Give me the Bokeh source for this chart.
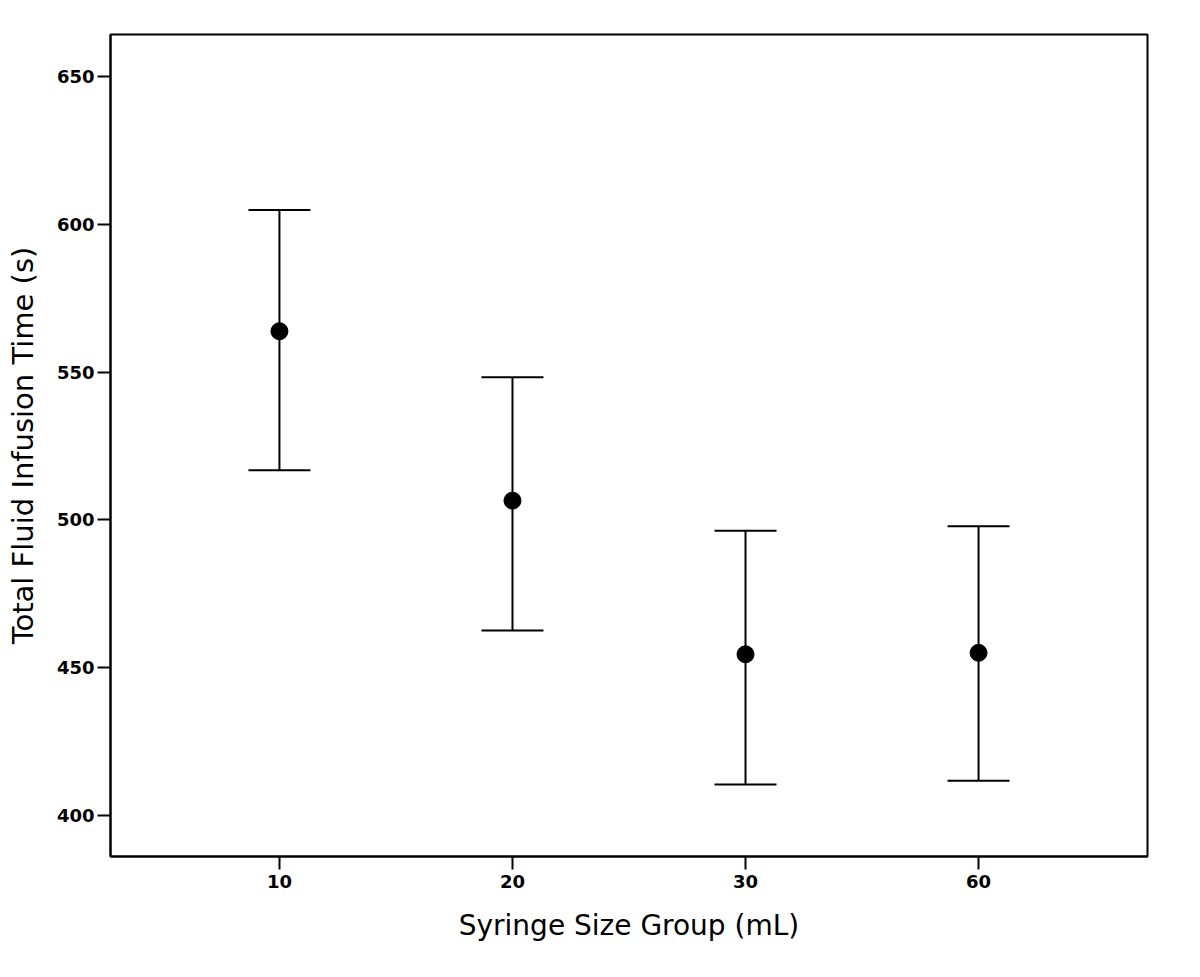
from bokeh.plotting import figure
from bokeh.models import Range1d, FixedTicker, Whisker, TeeHead, ColumnDataSource
from bokeh.embed import file_html
from bokeh.resources import INLINE

categories = ["10", "20", "30", "60"]
means = [563.8, 506.5, 454.5, 455.0]
upper = [604.8, 548.2, 496.3, 497.8]
lower = [516.8, 462.6, 410.5, 411.7]

xpos = [i + 1 for i in range(len(categories))]
src = ColumnDataSource(dict(x=xpos, mean=means, upper=upper, lower=lower))

p = figure(width=1190, height=965, output_backend="svg", toolbar_location=None,
           x_range=Range1d(0.275, 4.725), y_range=Range1d(386.1, 664.2),
           min_border_left=110, min_border_top=34, min_border_right=43, min_border_bottom=109)

p.background_fill_color = "white"
p.border_fill_color = "white"
p.outline_line_color = "black"
p.outline_line_width = 2
p.xgrid.visible = False
p.ygrid.visible = False

w = Whisker(source=src, base="x", upper="upper", lower="lower", dimension="height",
            line_color="black", line_width=2,
            upper_head=TeeHead(size=62, line_color="black", line_width=2),
            lower_head=TeeHead(size=62, line_color="black", line_width=2))
p.add_layout(w)
p.scatter("x", "mean", source=src, size=17, color="black")

p.xaxis.ticker = FixedTicker(ticks=xpos)
p.xaxis.major_label_overrides = {x: c for x, c in zip(xpos, categories)}
p.yaxis.ticker = FixedTicker(ticks=[400, 450, 500, 550, 600, 650])

for ax in (p.xaxis[0], p.yaxis[0]):
    ax.axis_line_width = 2
    ax.axis_line_color = "black"
    ax.major_tick_line_width = 2
    ax.major_tick_line_color = "black"
    ax.major_tick_out = 13
    ax.major_tick_in = 0
    ax.minor_tick_line_color = None
    ax.major_label_text_font = "DejaVu Sans"
    ax.major_label_text_font_style = "bold"
    ax.major_label_text_font_size = "18px"
    ax.major_label_text_color = "black"
    ax.axis_label_text_font = "DejaVu Sans"
    ax.axis_label_text_font_style = "normal"
    ax.axis_label_text_color = "black"

p.xaxis.axis_label_text_font_size = "28px"
p.yaxis.axis_label_text_font_size = "29px"
p.xaxis.axis_label = "Syringe Size Group (mL)"
p.yaxis.axis_label = "Total Fluid Infusion Time (s)"
p.xaxis.major_label_standoff = 5
p.xaxis.axis_label_standoff = 18
p.yaxis.major_label_standoff = 3
p.yaxis.axis_label_standoff = 14

open("out.html", "w").write(file_html(p, INLINE))
